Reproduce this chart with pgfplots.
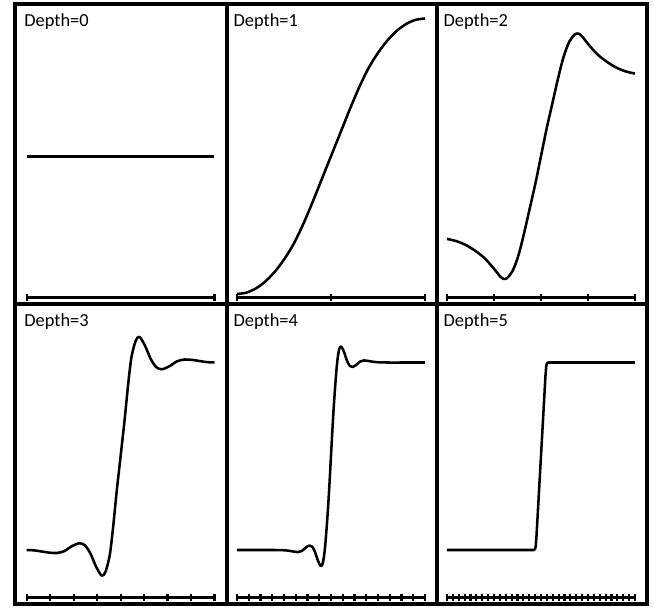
\documentclass[border=0pt]{standalone}
\usepackage{pgfplots}
\pgfplotsset{compat=1.18}
\usepackage{fontspec}
\setmainfont{Carlito}
\pgfplotsset{
  panel/.style={scale only axis, anchor=north west, height=225pt,
    ticks=none, clip=false,
    axis line style={line width=2.9pt, line cap=rect},
    xmin=-0.053, xmax=1.064},
  row1/.style={ymin=-0.0362, ymax=1.0525},
  row2/.style={ymin=-0.288, ymax=1.312},
  curve/.style={line width=1.9pt, black, line join=round},
  ruler/.style={line width=1.8pt, black, mark=|, mark size=2.6pt, mark options={line width=1.6pt}}
}
\tikzset{ttl/.style={anchor=base west, font=\fontsize{13.8}{16}\selectfont, inner sep=0pt}}
\begin{document}
\begin{tikzpicture}
\path (0,0) rectangle (490.5pt,-458.25pt);
% ---------- Depth 0
\begin{axis}[panel, row1, at={(11.03pt,-3pt)}, width=159.2pt, xmin=-0.0638, xmax=1.0665]
\addplot[ruler] coordinates {(0,-0.013)(1,-0.013)};
\addplot[curve] coordinates {(0,0.5)(1,0.5)};
\node[ttl] at (rel axis cs:0,1) [xshift=7pt, yshift=-16.5pt] {Depth=0};
\end{axis}
% ---------- Depth 1
\begin{axis}[panel, row1, at={(170.25pt,-3pt)}, width=157.5pt]
\addplot[ruler] coordinates {(0,-0.013)(0.5,-0.013)(1,-0.013)};
\addplot[curve, smooth] coordinates {(0,0)(0.05,0.005)(0.1,0.02)(0.15,0.045)(0.2,0.08)(0.25,0.125)(0.3,0.18)(0.35,0.25)(0.4,0.33)(0.45,0.415)(0.5,0.5)(0.55,0.585)(0.6,0.67)(0.65,0.75)(0.7,0.82)(0.75,0.875)(0.8,0.92)(0.85,0.955)(0.9,0.98)(0.95,0.995)(1,1)};
\node[ttl] at (rel axis cs:0,1) [xshift=4.7pt, yshift=-16.5pt] {Depth=1};
\end{axis}
% ---------- Depth 2
\begin{axis}[panel, row1, at={(327.75pt,-3pt)}, width=157.5pt]
\addplot[ruler] coordinates {(0,-0.013)(0.25,-0.013)(0.5,-0.013)(0.75,-0.013)(1,-0.013)};
\addplot[curve, smooth] coordinates {(0,0.2)(0.05,0.192)(0.1,0.178)(0.15,0.157)(0.2,0.13)(0.25,0.092)(0.28,0.066)(0.3,0.055)(0.32,0.058)(0.35,0.085)(0.38,0.14)(0.41,0.22)(0.44,0.31)(0.47,0.40)(0.5,0.5)(0.53,0.60)(0.56,0.69)(0.59,0.78)(0.62,0.86)(0.65,0.915)(0.68,0.942)(0.7,0.945)(0.72,0.934)(0.75,0.908)(0.8,0.87)(0.85,0.843)(0.9,0.822)(0.95,0.808)(1,0.8)};
\node[ttl] at (rel axis cs:0,1) [xshift=4.7pt, yshift=-16.5pt] {Depth=2};
\end{axis}
% ---------- Depth 3
\begin{axis}[panel, row2, at={(11.03pt,-228pt)}, width=159.2pt, xmin=-0.0638, xmax=1.0665]
\addplot[ruler] coordinates {(0,-0.254)(0.125,-0.254)(0.25,-0.254)(0.375,-0.254)(0.5,-0.254)(0.625,-0.254)(0.75,-0.254)(0.875,-0.254)(1,-0.254)};
\addplot[curve, smooth] coordinates {(0,0)(0.04,-0.002)(0.08,-0.008)(0.12,-0.014)(0.16,-0.016)(0.2,-0.006)(0.24,0.02)(0.28,0.036)(0.31,0.025)(0.34,-0.02)(0.37,-0.09)(0.40,-0.137)(0.42,-0.115)(0.44,-0.04)(0.45,0.03)(0.46,0.12)(0.47,0.22)(0.48,0.32)(0.49,0.41)(0.5,0.5)(0.51,0.59)(0.52,0.68)(0.53,0.78)(0.54,0.88)(0.55,0.97)(0.56,1.04)(0.58,1.115)(0.60,1.137)(0.63,1.09)(0.66,1.02)(0.69,0.975)(0.72,0.964)(0.76,0.98)(0.8,1.006)(0.84,1.016)(0.88,1.014)(0.92,1.008)(0.96,1.002)(1,1)};
\node[ttl] at (rel axis cs:0,1) [xshift=7pt, yshift=-17pt] {Depth=3};
\end{axis}
% ---------- Depth 4
\begin{axis}[panel, row2, at={(170.25pt,-228pt)}, width=157.5pt]
\addplot[ruler] coordinates {(0,-0.254)(0.0625,-0.254)(0.125,-0.254)(0.1875,-0.254)(0.25,-0.254)(0.3125,-0.254)(0.375,-0.254)(0.4375,-0.254)(0.5,-0.254)(0.5625,-0.254)(0.625,-0.254)(0.6875,-0.254)(0.75,-0.254)(0.8125,-0.254)(0.875,-0.254)(0.9375,-0.254)(1,-0.254)};
\addplot[curve, smooth] coordinates {(0,0)(0.1,0)(0.2,0)(0.26,-0.002)(0.3,-0.008)(0.325,-0.011)(0.345,-0.005)(0.365,0.012)(0.385,0.024)(0.4,0.018)(0.415,-0.01)(0.43,-0.055)(0.445,-0.085)(0.455,-0.075)(0.462,-0.04)(0.468,0.01)(0.474,0.08)(0.48,0.16)(0.486,0.25)(0.493,0.37)(0.5,0.5)(0.507,0.63)(0.514,0.75)(0.52,0.84)(0.526,0.92)(0.532,0.99)(0.538,1.04)(0.545,1.075)(0.555,1.085)(0.57,1.055)(0.585,1.01)(0.6,0.982)(0.615,0.976)(0.635,0.988)(0.655,1.005)(0.675,1.011)(0.7,1.008)(0.74,1.002)(0.8,1)(0.9,1)(1,1)};
\node[ttl] at (rel axis cs:0,1) [xshift=4.7pt, yshift=-17pt] {Depth=4};
\end{axis}
% ---------- Depth 5
\begin{axis}[panel, row2, at={(327.75pt,-228pt)}, width=157.5pt]
\addplot[ruler] coordinates {(0,-0.254)(0.03125,-0.254)(0.0625,-0.254)(0.09375,-0.254)(0.125,-0.254)(0.15625,-0.254)(0.1875,-0.254)(0.21875,-0.254)(0.25,-0.254)(0.28125,-0.254)(0.3125,-0.254)(0.34375,-0.254)(0.375,-0.254)(0.40625,-0.254)(0.4375,-0.254)(0.46875,-0.254)(0.5,-0.254)(0.53125,-0.254)(0.5625,-0.254)(0.59375,-0.254)(0.625,-0.254)(0.65625,-0.254)(0.6875,-0.254)(0.71875,-0.254)(0.75,-0.254)(0.78125,-0.254)(0.8125,-0.254)(0.84375,-0.254)(0.875,-0.254)(0.90625,-0.254)(0.9375,-0.254)(0.96875,-0.254)(1,-0.254)};
\addplot[curve] coordinates {(0,0)(0.462,0)(0.468,0.004)(0.472,0.02)(0.476,0.07)(0.5,0.5)(0.524,0.93)(0.528,0.98)(0.532,0.996)(0.538,1)(1,1)};
\node[ttl] at (rel axis cs:0,1) [xshift=4.7pt, yshift=-17pt] {Depth=5};
\end{axis}
\end{tikzpicture}
\end{document}
